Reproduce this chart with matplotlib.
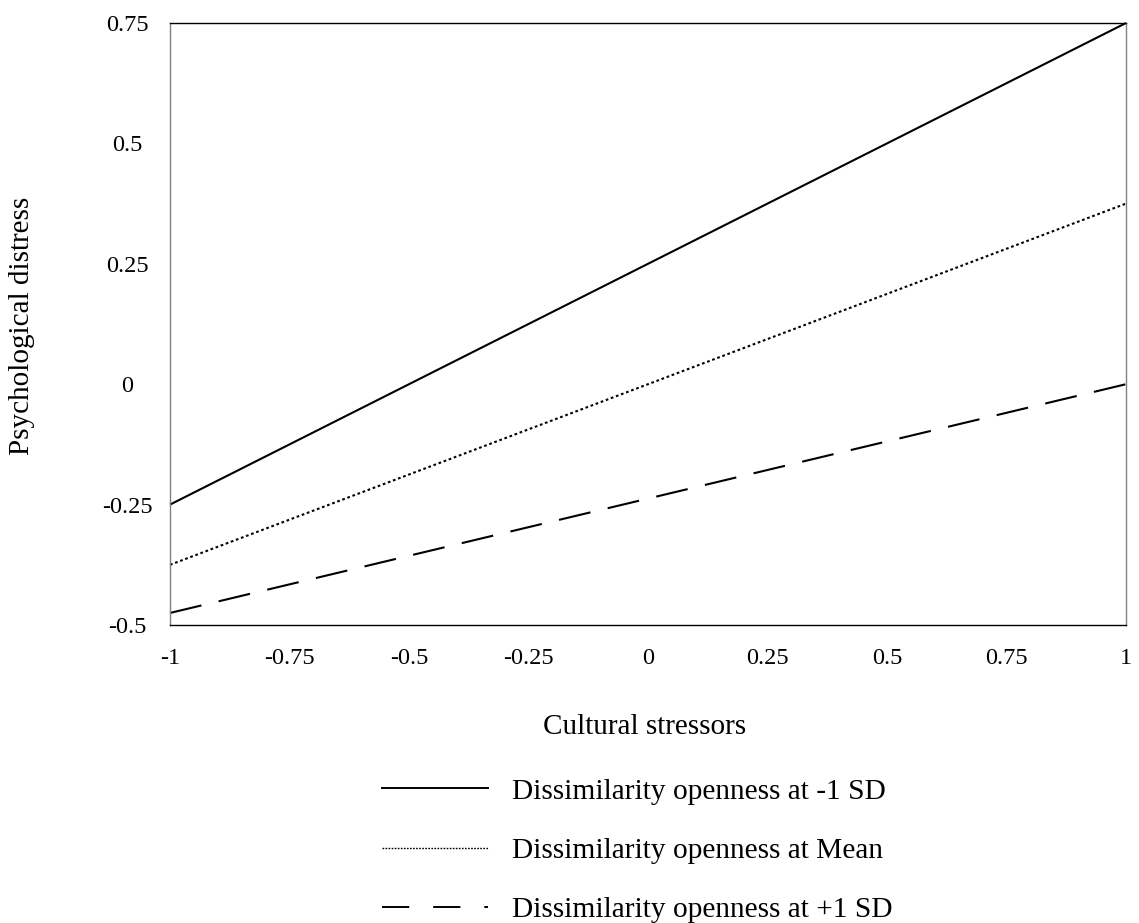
import matplotlib
matplotlib.use("Agg")
import matplotlib.pyplot as plt
from matplotlib.lines import Line2D

plt.rcParams['font.family'] = ['Liberation Serif', 'DejaVu Serif']

# Data
x_vals = [-1, 1]
low_sd = [-0.25, 0.75]      # Dissimilarity openness at -1 SD
mean_vals = [-0.375, 0.375]  # at Mean
high_sd = [-0.475, 0.0]      # at +1 SD
labels = ["Dissimilarity openness at -1 SD",
          "Dissimilarity openness at Mean",
          "Dissimilarity openness at +1 SD"]
x_ticks = [-1, -0.75, -0.5, -0.25, 0, 0.25, 0.5, 0.75, 1]
x_ticklabels = ["-1", "-0.75", "-0.5", "-0.25", "0", "0.25", "0.5", "0.75", "1"]
y_ticks = [-0.5, -0.25, 0, 0.25, 0.5, 0.75]
y_ticklabels = ["-0.5", "-0.25", "0", "0.25", "0.5", "0.75"]

W, H = 1139, 923
fig = plt.figure(figsize=(W / 100, H / 100), dpi=100)
L, R, T, B = 170, 1126, 23, 625
ax = fig.add_axes([L / W, 1 - B / H, (R - L) / W, (B - T) / H])

ax.plot(x_vals, low_sd, color='black', lw=1.5, solid_capstyle='butt', clip_on=False)
ax.plot(x_vals, mean_vals, color='black', lw=1.5, dashes=(1.3, 1.3), clip_on=False)
ax.plot(x_vals, high_sd, color='black', lw=1.5, dashes=(15.5, 8.5), clip_on=False)

ax.set_xlim(-1, 1)
ax.set_ylim(-0.5, 0.75)
ax.set_xticks(x_ticks)
ax.set_xticklabels(x_ticklabels)
ax.set_yticks(y_ticks)
ax.set_yticklabels(y_ticklabels)
ax.tick_params(axis='both', length=0, labelsize=17.5)
ax.tick_params(axis='x', pad=16.5)
ax.tick_params(axis='y', pad=31)
for lab in ax.get_yticklabels():
    lab.set_horizontalalignment('center')

for s in ['top', 'bottom']:
    ax.spines[s].set_color('black')
    ax.spines[s].set_linewidth(1.0)
for s in ['left', 'right']:
    ax.spines[s].set_color('#808080')
    ax.spines[s].set_linewidth(1.0)

fig.text(22 / W, 1 - 326 / H, "Psychological distress", rotation=90,
         ha='center', va='center', fontsize=21)
fig.text(645 / W, 1 - 727 / H, "Cultural stressors", ha='center', va='center', fontsize=21)

handles = [
    Line2D([0], [0], color='black', lw=1.4),
    Line2D([0], [0], color='black', lw=1.0, dashes=(1.2, 1.0)),
    Line2D([0], [0], color='black', lw=1.4, dashes=(14, 12.3)),
]
fig.legend(handles, labels, loc='upper left', bbox_to_anchor=(382 / W, 1 - 778 / H),
           frameon=False, fontsize=21.2, handlelength=3.6, handletextpad=0.8,
           labelspacing=1.11, borderpad=0, borderaxespad=0)

fig.savefig("out.png", dpi=100)
